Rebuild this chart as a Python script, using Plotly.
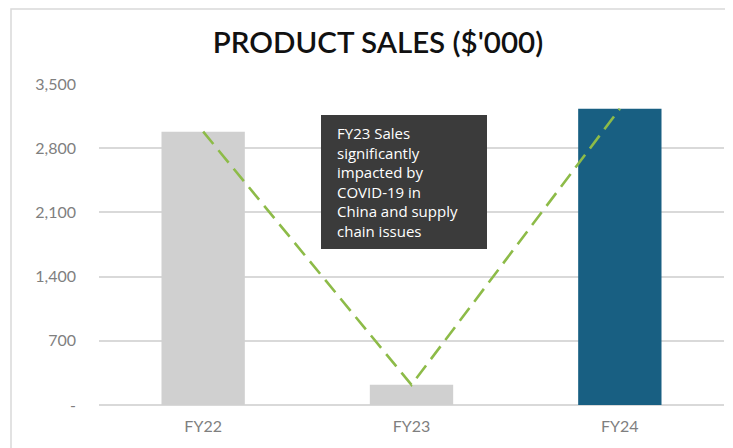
import plotly.graph_objects as go

categories = ["FY22", "FY23", "FY24"]
sales = [2980, 220, 3230]
tick_values = [0, 700, 1400, 2100, 2800, 3500]
tick_labels = ["-", "700", "1,400", "2,100", "2,800", "3,500"]
note_lines = ["FY23 Sales", "significantly", "impacted by", "COVID-19 in",
              "China and supply", "chain issues"]

bar_colors = ["#d0d0d0", "#d0d0d0", "#185f82"]

# page body adds an 8px offset; plot area in page coords: x 99..724, y 84..405
L, T = 91, 76
PW, PH = 625, 321
W, H = 733, 448


def px(xp):
    return (xp - 99) / PW


def py(yp):
    return (405 - yp) / PH


fig = go.Figure()
fig.add_trace(go.Bar(x=categories, y=sales, marker=dict(color=bar_colors, line=dict(width=0)),
                     hoverinfo="skip"))
fig.add_trace(go.Scatter(x=categories, y=sales, mode="lines",
                         line=dict(color="#8dbb48", width=2.6, dash="16px,8px"),
                         hoverinfo="skip"))

fig.update_layout(
    width=W, height=H,
    margin=dict(l=L, r=W - L - PW, t=T, b=H - T - PH),
    paper_bgcolor="white", plot_bgcolor="white",
    showlegend=False,
    bargap=0.6,
    font=dict(family="Lato", color="#7f7f7f"),
    title=dict(text="PRODUCT SALES ($'000)", x=(378 - 8) / W, xanchor="center",
               y=1 - (43 - 8) / H, yanchor="middle", yref="container",
               font=dict(family="Lato", size=29.5, color="#111111", weight=600)),
    xaxis=dict(showgrid=False, showline=False, zeroline=False,
               tickfont=dict(size=16, color="#7f7f7f"), ticks="", ticklabelstandoff=10),
    yaxis=dict(range=[0, 3500], tickvals=tick_values, ticktext=tick_labels,
               showgrid=True, gridcolor="#d9d9d9", gridwidth=1.5,
               zeroline=True, zerolinecolor="#d9d9d9", zerolinewidth=1.5,
               showline=False, ticks="", ticklabelstandoff=22,
               tickfont=dict(size=16, color="#7f7f7f")),
    shapes=[dict(type="rect", xref="paper", yref="paper",
                 x0=px(11), x1=1.2, y0=-0.3, y1=py(9),
                 line=dict(color="#d9d9d9", width=1.5), fillcolor="rgba(0,0,0,0)",
                 layer="below"),
            dict(type="rect", xref="paper", yref="paper",
                 x0=px(321), x1=px(487), y0=py(249), y1=py(115),
                 line=dict(width=0), fillcolor="#3b3b3b", layer="above")],
    annotations=[dict(text="<br>".join(note_lines), xref="paper", yref="paper",
                      x=px(335), y=py(182),
                      xanchor="left", yanchor="middle", showarrow=False,
                      align="left",
                      font=dict(family="Open Sans", size=15, color="white"))],
)

fig.write_html("out.html")
